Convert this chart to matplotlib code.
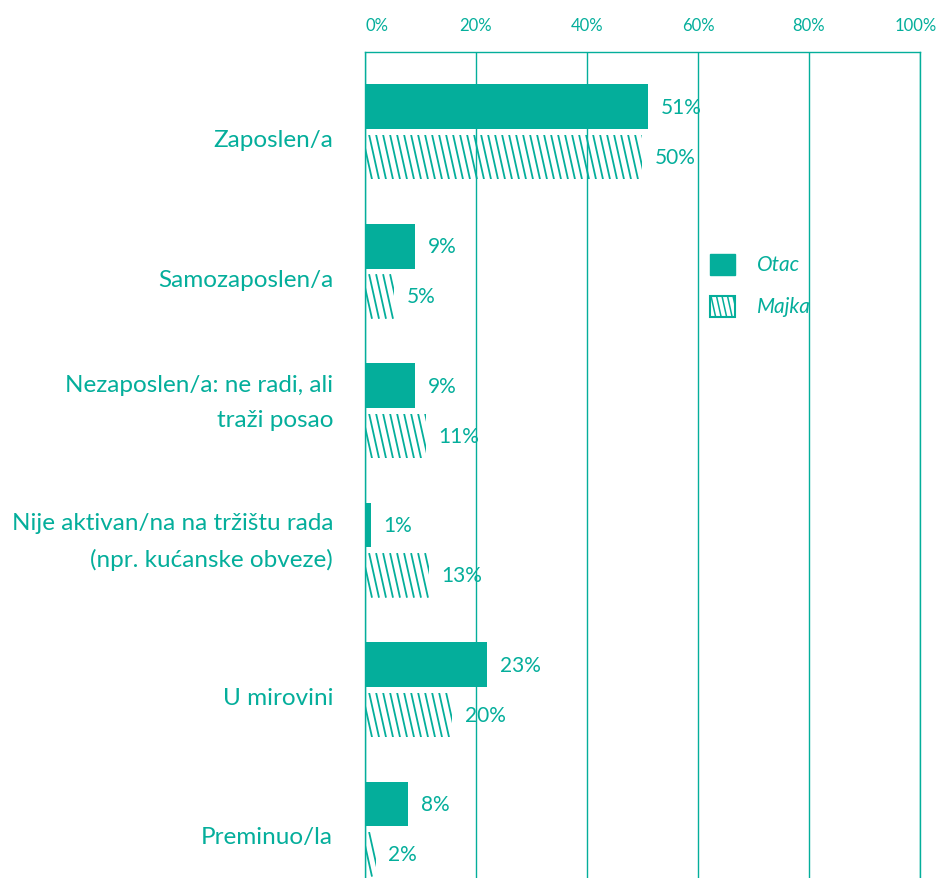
import numpy as np
import matplotlib.pyplot as plt
from matplotlib.patches import Rectangle
import matplotlib.transforms as mtransforms

categories = ["Zaposlen/a", "Samozaposlen/a", "Nezaposlen/a: ne radi, ali\ntraži posao",
              "Nije aktivan/na na tržištu rada\n(npr. kućanske obveze)", "U mirovini", "Preminuo/la"]
otac = [51, 9, 9, 1, 22, 7.8]          # bar lengths as drawn (%)
majka = [50, 5.3, 11, 11.5, 15.7, 1.9]
otac_labels = ["51%", "9%", "9%", "1%", "23%", "8%"]
majka_labels = ["50%", "5%", "11%", "13%", "20%", "2%"]
xticks = [0, 20, 40, 60, 80, 100]

teal = "#04ae9b"
plt.rcParams['font.family'] = ['Lato', 'DejaVu Sans']

fig = plt.figure(figsize=(9.4, 8.79), dpi=100)
ax = fig.add_axes([0.3883, 0.0, 0.5904, 0.9397])
ax.set_xlim(0, 100)
ax.set_ylim(5.35, -0.573)

bh = 0.32
off = 0.18
y = np.arange(len(categories))


def hatch(patch, step=7.0, slope=4.5, lw=1.3, z=3):
    # steep diagonal hatch drawn in pixel space, clipped to the patch
    bb = patch.get_window_extent()
    h = bb.height
    inv = ax.transData.inverted()
    x = bb.x0 - h / slope
    while x < bb.x1:
        p0 = inv.transform((x, bb.y1))
        p1 = inv.transform((x + h / slope, bb.y0))
        ln, = ax.plot([p0[0], p1[0]], [p0[1], p1[1]], color=teal, lw=lw,
                      solid_capstyle='butt', zorder=z)
        ln.set_clip_path(patch)
        x += step


for i in range(len(categories)):
    ax.barh(y[i] - off, otac[i], height=bh, color=teal, zorder=3)
    r = ax.barh(y[i] + off, majka[i], height=bh, color='none', lw=0, zorder=3)[0]
    hatch(r)
    ax.annotate(otac_labels[i], (otac[i], y[i] - off), xytext=(9, 0),
                textcoords='offset points', va='center', ha='left',
                color=teal, fontsize=15)
    ax.annotate(majka_labels[i], (majka[i], y[i] + off), xytext=(9, 0),
                textcoords='offset points', va='center', ha='left',
                color=teal, fontsize=15)

ax.set_xticks(xticks)
ax.set_xticklabels([f"{t}%" for t in xticks])
ax.xaxis.tick_top()
ax.tick_params(axis='x', length=0, pad=14, labelsize=12, labelcolor=teal)
xlabs = ax.get_xticklabels()
xlabs[0].set_horizontalalignment('left')
xlabs[-1].set_transform(xlabs[-1].get_transform() +
                        mtransforms.ScaledTranslation(-4 / 100, 0, fig.dpi_scale_trans))

# category labels, single-line ones sit a little low, two-line ones a little high
ax.set_yticks([])
for i, cat in enumerate(categories):
    dy = -5.5 if "\n" not in cat else 6.5
    tr = ax.get_yaxis_transform() + mtransforms.ScaledTranslation(-23 / 72, dy / 72, fig.dpi_scale_trans)
    ax.text(0, y[i], cat, transform=tr, ha='right', va='center', ma='right',
            fontsize=17.5, color=teal, linespacing=1.8)

ax.grid(axis='x', color=teal, lw=1)
ax.set_axisbelow(True)
for s in ['top', 'left', 'right']:
    ax.spines[s].set_color(teal)
    ax.spines[s].set_linewidth(1)
ax.spines['bottom'].set_visible(False)

# legend
sq1 = Rectangle((0.622, 0.730), 0.045, 0.0254, transform=ax.transAxes,
                color=teal, zorder=4)
ax.add_patch(sq1)
sq2 = Rectangle((0.622, 0.679), 0.045, 0.0254, transform=ax.transAxes,
                facecolor='white', edgecolor=teal, lw=1.5, zorder=4)
ax.add_patch(sq2)
hatch(sq2, step=5.5, lw=1.1, z=5)
ax.text(0.706, 0.743, "Otac", transform=ax.transAxes, color=teal,
        fontsize=15, style='italic', va='center')
ax.text(0.706, 0.692, "Majka", transform=ax.transAxes, color=teal,
        fontsize=15, style='italic', va='center')

plt.savefig('out.png', dpi=100)
